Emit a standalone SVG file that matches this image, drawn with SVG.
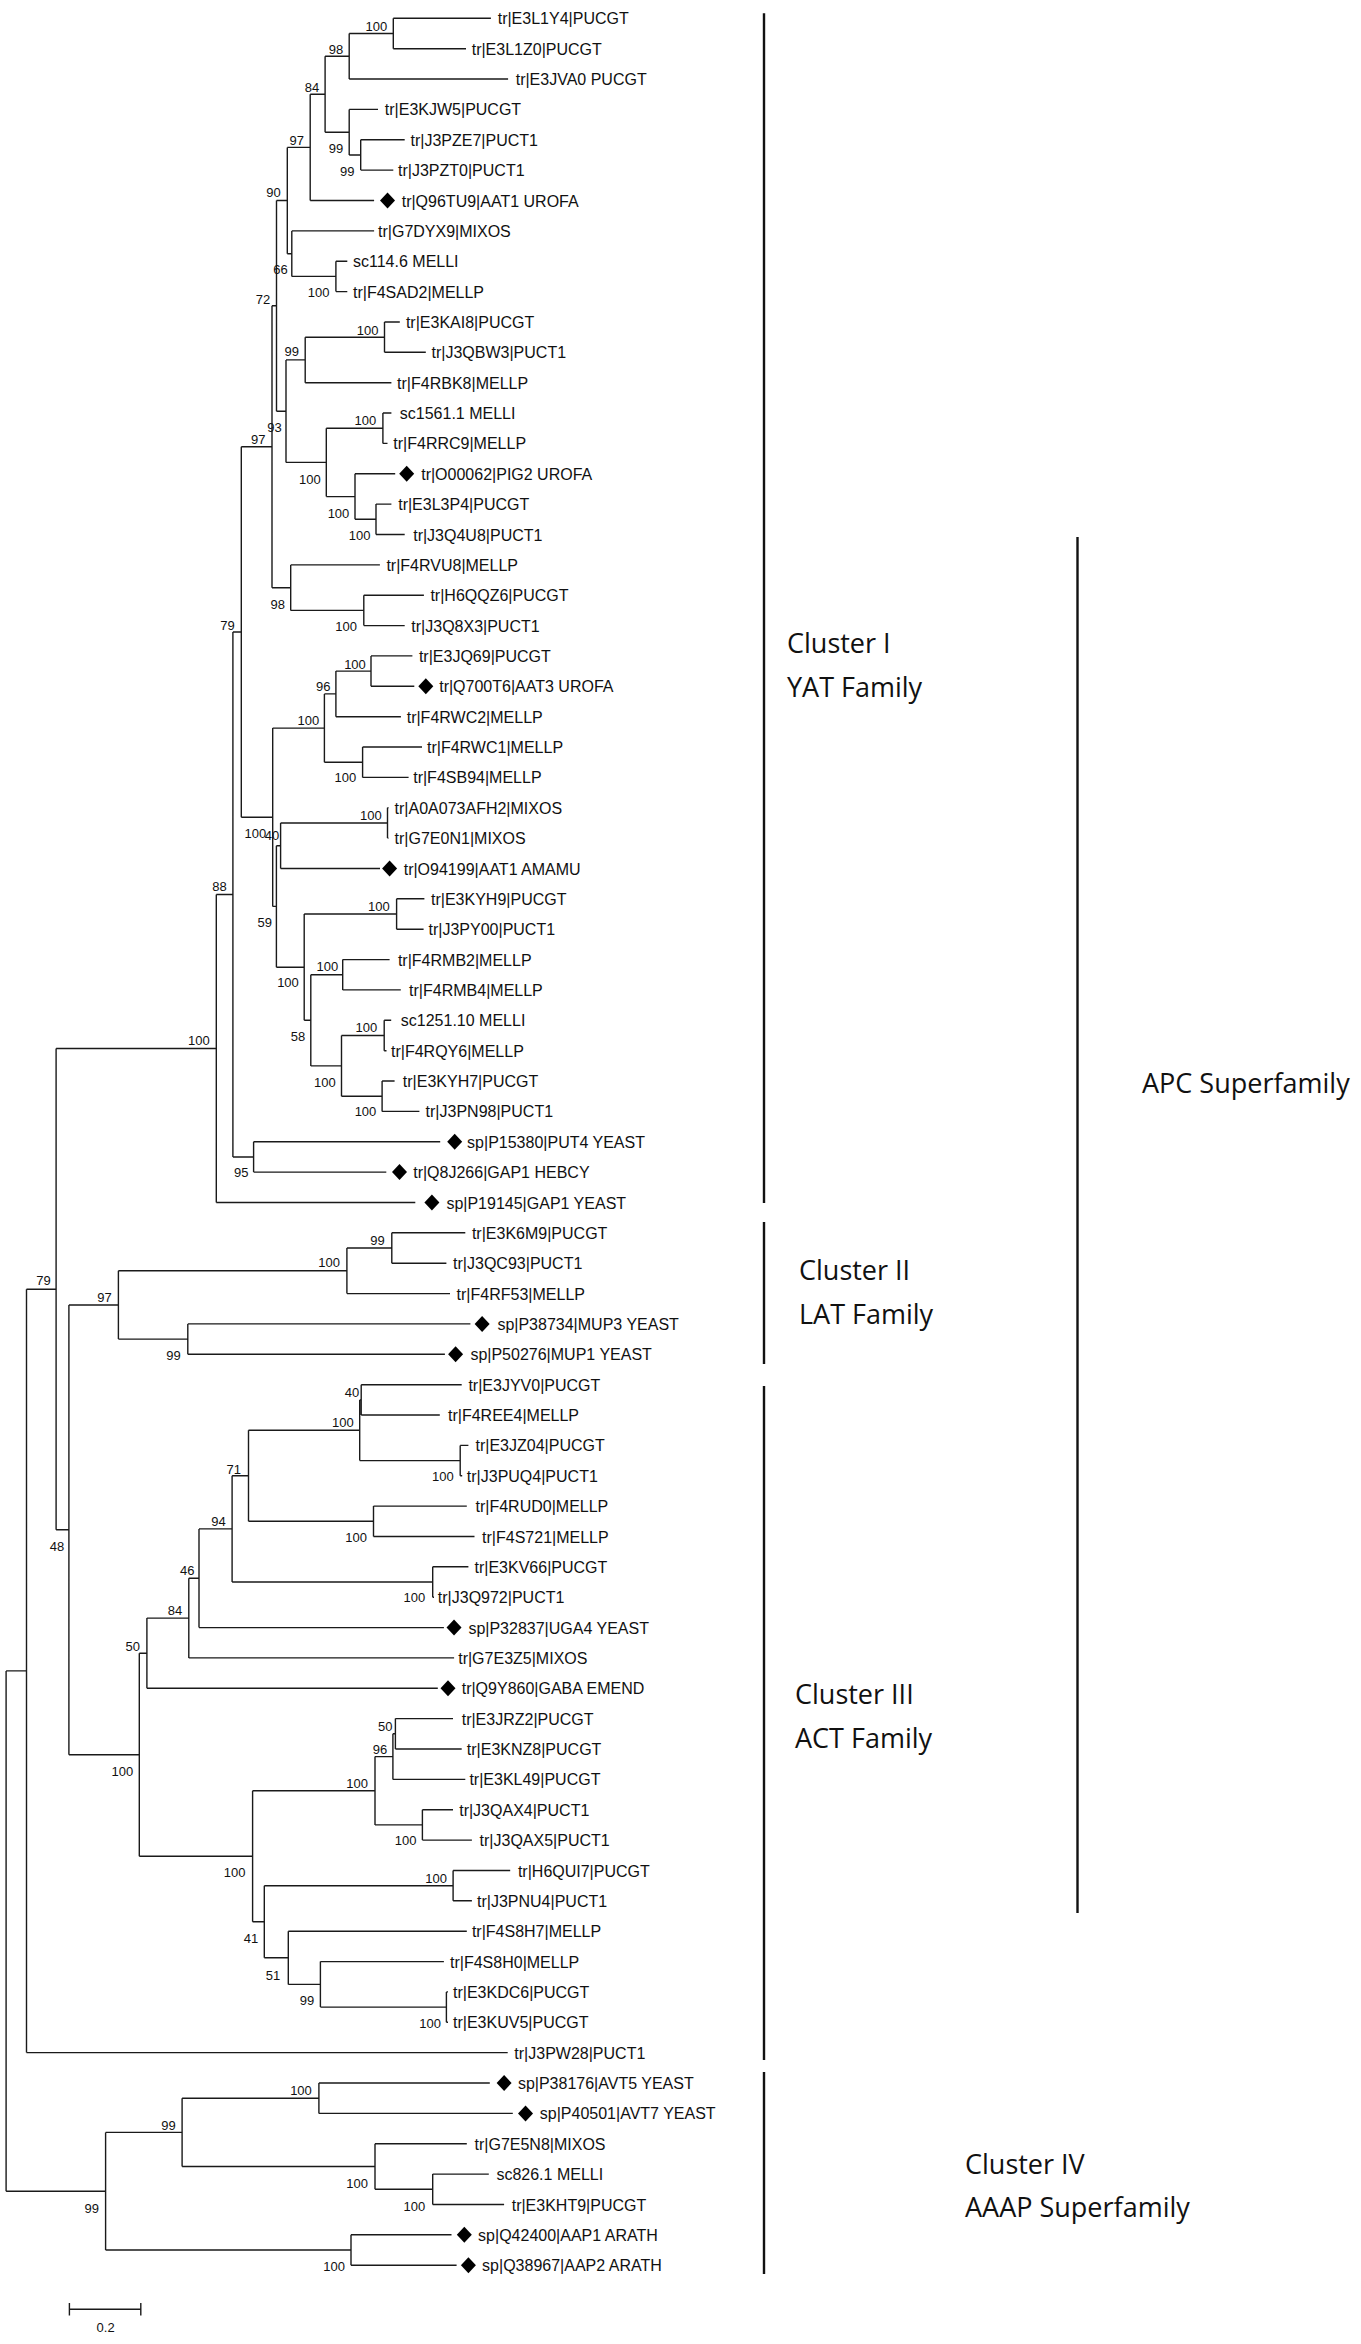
<svg xmlns="http://www.w3.org/2000/svg" xmlns:xlink="http://www.w3.org/1999/xlink" width="1361" height="2344" viewBox="0 0 1361 2344">
<defs>
<style>
.br{fill:none;stroke:#1a1a1a;stroke-width:1.4}
.bar{fill:none;stroke:#111;stroke-width:2.4}
.lf{font-family:"Liberation Sans",Arial,sans-serif;font-size:16px;fill:#111}
.bs{font-family:"Liberation Sans",Arial,sans-serif;font-size:13px;fill:#111;text-anchor:middle}
.cl{font-family:"Open Sans","Noto Sans",sans-serif;font-size:27px;fill:#111}
.dm{fill:#000}
</style>
<path id="dia" d="M0 -8L7.5 0L0 8L-7.5 0Z"/>
</defs>
<rect width="1361" height="2344" fill="#fff"/>
<g id="connectors" class="br">
<path d="M6.1 1670.9V2191.2M6.1 1670.9H26.5M6.1 2191.2H105.6
M26.5 1289.2V2052.6M26.5 1289.2H56.1M26.5 2052.6H507.7
M56.1 1048.5V1529.8M56.1 1048.5H216.3M56.1 1529.8H68.9
M216.3 894.5V1202.5M216.3 894.5H232.9M216.3 1202.5H415.3
M232.9 632V1157M232.9 632H241.3M232.9 1157H253.6
M241.3 446.7V817.2M241.3 446.7H272M241.3 817.2H272.7
M272 305.8V587.7M272 305.8H276.5M272 587.7H290.7
M276.5 200.5V411.2M276.5 200.5H287.3M276.5 411.2H286
M287.3 147.4V253.7M287.3 147.4H310.2M287.3 253.7H291.8
M310.2 94.2V200.5M310.2 94.2H325.1M310.2 200.5H374.1
M325.1 56.3V132.2M325.1 56.3H349.2M325.1 132.2H349.2
M349.2 33.5V79M349.2 33.5H393.3M349.2 79H508.1
M393.3 18.3V48.7M393.3 18.3H490.9M393.3 48.7H466
M349.2 109.4V155M349.2 109.4H378M349.2 155H360.7
M360.7 139.8V170.1M360.7 139.8H404.7M360.7 170.1H393.3
M291.8 230.9V276.4M291.8 230.9H374.1M291.8 276.4H335.9
M335.9 261.2V291.6M335.9 261.2H347.3M335.9 291.6H347.3
M286 359.9V462.4M286 359.9H305.2M286 462.4H326.3
M305.2 337.2V382.7M305.2 337.2H384.5M305.2 382.7H391.4
M384.5 322V352.3M384.5 322H399.8M384.5 352.3H425.8
M326.3 428.2V496.6M326.3 428.2H382.9M326.3 496.6H355
M382.9 413V443.4M382.9 413H391.4M382.9 443.4H387.5
M355 473.8V519.3M355 473.8H395.2M355 519.3H376
M376 504.1V534.5M376 504.1H391.4M376 534.5H404.7
M290.7 564.9V610.4M290.7 564.9H379.9M290.7 610.4H363.8
M363.8 595.2V625.6M363.8 595.2H423.9M363.8 625.6H404.7
M272.7 728.1V906.4M272.7 728.1H324.4M272.7 906.4H276.4
M324.4 693.9V762.2M324.4 693.9H335.9M324.4 762.2H362.6
M335.9 671.1V716.7M335.9 671.1H371M335.9 716.7H400.9
M371 655.9V686.3M371 655.9H412.4M371 686.3H414.3
M362.6 747V777.4M362.6 747H422M362.6 777.4H408.6
M276.4 845.7V967.2M276.4 845.7H280.6M276.4 967.2H304.2
M280.6 823V868.5M280.6 823H387.5M280.6 868.5H380
M387.5 807.8V838.1M387.5 807.8H388.5M387.5 838.1H388.5
M304.2 914V1020.3M304.2 914H396.6M304.2 1020.3H310.8
M396.6 898.8V929.2M396.6 898.8H424.4M396.6 929.2H423.6
M310.8 974.8V1065.9M310.8 974.8H342.7M310.8 1065.9H341.5
M342.7 959.6V989.9M342.7 959.6H389.6M342.7 989.9H400.8
M341.5 1035.5V1096.2M341.5 1035.5H384.2M341.5 1096.2H382.1
M384.2 1020.3V1050.7M384.2 1020.3H391.2M384.2 1050.7H386.5
M382.1 1081V1111.4M382.1 1081H394.6M382.1 1111.4H419.4
M253.6 1141.8V1172.1M253.6 1141.8H440.2M253.6 1172.1H386.3
M68.9 1305V1754.7M68.9 1305H118.4M68.9 1754.7H139.3
M118.4 1270.8V1339.1M118.4 1270.8H346.9M118.4 1339.1H187.8
M346.9 1248V1293.6M346.9 1248H391.8M346.9 1293.6H450
M391.8 1232.8V1263.2M391.8 1232.8H465.3M391.8 1263.2H446.4
M187.8 1323.9V1354.3M187.8 1323.9H470.4M187.8 1354.3H444.9
M139.3 1653.2V1856.2M139.3 1653.2H146.9M139.3 1856.2H252.6
M146.9 1618.1V1688.3M146.9 1618.1H188.8M146.9 1688.3H437.8
M188.8 1578.3V1657.9M188.8 1578.3H199M188.8 1657.9H454.1
M199 1528.9V1627.6M199 1528.9H232.1M199 1627.6H443.9
M232.1 1475.8V1582M232.1 1475.8H248.5M232.1 1582H432.7
M248.5 1430.2V1521.3M248.5 1430.2H359.7M248.5 1521.3H373.5
M359.7 1399.9V1460.6M359.7 1399.9H361.2M359.7 1460.6H460.2
M361.2 1384.7V1415M361.2 1384.7H461.7M361.2 1415H439.8
M460.2 1445.4V1475.7M460.2 1445.4H468.4M460.2 1475.7H462.2
M373.5 1506.1V1536.5M373.5 1506.1H466.8M373.5 1536.5H474.5
M432.7 1566.8V1597.2M432.7 1566.8H468.4M432.7 1597.2H434
M252.6 1790.8V1921.7M252.6 1790.8H375M252.6 1921.7H264.3
M375 1756.6V1824.9M375 1756.6H392.9M375 1824.9H422.4
M392.9 1733.8V1779.4M392.9 1733.8H395.4M392.9 1779.4H465.3
M395.4 1718.6V1749M395.4 1718.6H453M395.4 1749H461.7
M422.4 1809.7V1840.1M422.4 1809.7H453M422.4 1840.1H471.9
M264.3 1885.7V1957.8M264.3 1885.7H453.1M264.3 1957.8H288.3
M453.1 1870.5V1900.8M453.1 1870.5H510.2M453.1 1900.8H471.9
M288.3 1931.2V1984.4M288.3 1931.2H466.8M288.3 1984.4H320.4
M320.4 1961.6V2007.1M320.4 1961.6H443.9M320.4 2007.1H446.4
M446.4 1991.9V2022.3M446.4 1991.9H448M446.4 2022.3H448
M105.6 2132.4V2250M105.6 2132.4H182.1M105.6 2250H351
M182.1 2098.2V2166.5M182.1 2098.2H318.9M182.1 2166.5H375
M318.9 2083V2113.4M318.9 2083H489.8M318.9 2113.4H512.8
M375 2143.7V2189.3M375 2143.7H466.8M375 2189.3H432.7
M432.7 2174.1V2204.5M432.7 2174.1H488.8M432.7 2204.5H504.1
M351 2234.8V2265.2M351 2234.8H451.5M351 2265.2H456.6"/>
</g>
<g id="leaves">
<g id="n01"><text class="lf" x="497.7" y="24.3">tr|E3L1Y4|PUCGT</text></g>
<g id="n02"><text class="lf" x="471.7" y="54.7">tr|E3L1Z0|PUCGT</text></g>
<g id="n03"><text class="lf" x="515.7" y="85">tr|E3JVA0 PUCGT</text></g>
<g id="n04"><text class="lf" x="384.8" y="115.4">tr|E3KJW5|PUCGT</text></g>
<g id="n05"><text class="lf" x="410.5" y="145.8">tr|J3PZE7|PUCT1</text></g>
<g id="n06"><text class="lf" x="398" y="176.1">tr|J3PZT0|PUCT1</text></g>
<g id="n07"><use href="#dia" class="dm" x="387.5" y="200.5"/><text class="lf" x="401.7" y="206.5">tr|Q96TU9|AAT1 UROFA</text></g>
<g id="n08"><text class="lf" x="378" y="236.9">tr|G7DYX9|MIXOS</text></g>
<g id="n09"><text class="lf" x="353" y="267.2">sc114.6 MELLI</text></g>
<g id="n10"><text class="lf" x="353" y="297.6">tr|F4SAD2|MELLP</text></g>
<g id="n11"><text class="lf" x="405.9" y="328">tr|E3KAI8|PUCGT</text></g>
<g id="n12"><text class="lf" x="431.5" y="358.3">tr|J3QBW3|PUCT1</text></g>
<g id="n13"><text class="lf" x="397.1" y="388.7">tr|F4RBK8|MELLP</text></g>
<g id="n14"><text class="lf" x="399.8" y="419">sc1561.1 MELLI</text></g>
<g id="n15"><text class="lf" x="393.3" y="449.4">tr|F4RRC9|MELLP</text></g>
<g id="n16"><use href="#dia" class="dm" x="406.7" y="473.8"/><text class="lf" x="421.2" y="479.8">tr|O00062|PIG2 UROFA</text></g>
<g id="n17"><text class="lf" x="398.2" y="510.1">tr|E3L3P4|PUCGT</text></g>
<g id="n18"><text class="lf" x="413.2" y="540.5">tr|J3Q4U8|PUCT1</text></g>
<g id="n19"><text class="lf" x="386.4" y="570.9">tr|F4RVU8|MELLP</text></g>
<g id="n20"><text class="lf" x="430.4" y="601.2">tr|H6QQZ6|PUCGT</text></g>
<g id="n21"><text class="lf" x="411.3" y="631.6">tr|J3Q8X3|PUCT1</text></g>
<g id="n22"><text class="lf" x="418.9" y="661.9">tr|E3JQ69|PUCGT</text></g>
<g id="n23"><use href="#dia" class="dm" x="425.8" y="686.3"/><text class="lf" x="439.2" y="692.3">tr|Q700T6|AAT3 UROFA</text></g>
<g id="n24"><text class="lf" x="406.7" y="722.7">tr|F4RWC2|MELLP</text></g>
<g id="n25"><text class="lf" x="427" y="753">tr|F4RWC1|MELLP</text></g>
<g id="n26"><text class="lf" x="413.2" y="783.4">tr|F4SB94|MELLP</text></g>
<g id="n27"><text class="lf" x="394.6" y="813.8">tr|A0A073AFH2|MIXOS</text></g>
<g id="n28"><text class="lf" x="394.6" y="844.1">tr|G7E0N1|MIXOS</text></g>
<g id="n29"><use href="#dia" class="dm" x="389.6" y="868.5"/><text class="lf" x="403.7" y="874.5">tr|O94199|AAT1 AMAMU</text></g>
<g id="n30"><text class="lf" x="431" y="904.8">tr|E3KYH9|PUCGT</text></g>
<g id="n31"><text class="lf" x="428.5" y="935.2">tr|J3PY00|PUCT1</text></g>
<g id="n32"><text class="lf" x="397.9" y="965.6">tr|F4RMB2|MELLP</text></g>
<g id="n33"><text class="lf" x="409.1" y="995.9">tr|F4RMB4|MELLP</text></g>
<g id="n34"><text class="lf" x="400.8" y="1026.3">sc1251.10 MELLI</text></g>
<g id="n35"><text class="lf" x="391" y="1056.7">tr|F4RQY6|MELLP</text></g>
<g id="n36"><text class="lf" x="402.8" y="1087">tr|E3KYH7|PUCGT</text></g>
<g id="n37"><text class="lf" x="425.6" y="1117.4">tr|J3PN98|PUCT1</text></g>
<g id="n38"><use href="#dia" class="dm" x="454.7" y="1141.8"/><text class="lf" x="467.1" y="1147.8">sp|P15380|PUT4 YEAST</text></g>
<g id="n39"><use href="#dia" class="dm" x="399.5" y="1172.1"/><text class="lf" x="413.2" y="1178.1">tr|Q8J266|GAP1 HEBCY</text></g>
<g id="n40"><use href="#dia" class="dm" x="431.9" y="1202.5"/><text class="lf" x="446.4" y="1208.5">sp|P19145|GAP1 YEAST</text></g>
<g id="n41"><text class="lf" x="471.9" y="1238.8">tr|E3K6M9|PUCGT</text></g>
<g id="n42"><text class="lf" x="453.1" y="1269.2">tr|J3QC93|PUCT1</text></g>
<g id="n43"><text class="lf" x="456.6" y="1299.6">tr|F4RF53|MELLP</text></g>
<g id="n44"><use href="#dia" class="dm" x="482.1" y="1323.9"/><text class="lf" x="497.4" y="1329.9">sp|P38734|MUP3 YEAST</text></g>
<g id="n45"><use href="#dia" class="dm" x="455.6" y="1354.3"/><text class="lf" x="470.4" y="1360.3">sp|P50276|MUP1 YEAST</text></g>
<g id="n46"><text class="lf" x="468.4" y="1390.7">tr|E3JYV0|PUCGT</text></g>
<g id="n47"><text class="lf" x="448" y="1421">tr|F4REE4|MELLP</text></g>
<g id="n48"><text class="lf" x="475.5" y="1451.4">tr|E3JZ04|PUCGT</text></g>
<g id="n49"><text class="lf" x="466.8" y="1481.7">tr|J3PUQ4|PUCT1</text></g>
<g id="n50"><text class="lf" x="475.5" y="1512.1">tr|F4RUD0|MELLP</text></g>
<g id="n51"><text class="lf" x="482.1" y="1542.5">tr|F4S721|MELLP</text></g>
<g id="n52"><text class="lf" x="474.5" y="1572.8">tr|E3KV66|PUCGT</text></g>
<g id="n53"><text class="lf" x="437.8" y="1603.2">tr|J3Q972|PUCT1</text></g>
<g id="n54"><use href="#dia" class="dm" x="454" y="1627.6"/><text class="lf" x="468.4" y="1633.6">sp|P32837|UGA4 YEAST</text></g>
<g id="n55"><text class="lf" x="458.2" y="1663.9">tr|G7E3Z5|MIXOS</text></g>
<g id="n56"><use href="#dia" class="dm" x="448" y="1688.3"/><text class="lf" x="461.7" y="1694.3">tr|Q9Y860|GABA EMEND</text></g>
<g id="n57"><text class="lf" x="461.7" y="1724.6">tr|E3JRZ2|PUCGT</text></g>
<g id="n58"><text class="lf" x="466.8" y="1755">tr|E3KNZ8|PUCGT</text></g>
<g id="n59"><text class="lf" x="469.4" y="1785.4">tr|E3KL49|PUCGT</text></g>
<g id="n60"><text class="lf" x="459.2" y="1815.7">tr|J3QAX4|PUCT1</text></g>
<g id="n61"><text class="lf" x="479.6" y="1846.1">tr|J3QAX5|PUCT1</text></g>
<g id="n62"><text class="lf" x="517.9" y="1876.5">tr|H6QUI7|PUCGT</text></g>
<g id="n63"><text class="lf" x="477" y="1906.8">tr|J3PNU4|PUCT1</text></g>
<g id="n64"><text class="lf" x="471.9" y="1937.2">tr|F4S8H7|MELLP</text></g>
<g id="n65"><text class="lf" x="450" y="1967.6">tr|F4S8H0|MELLP</text></g>
<g id="n66"><text class="lf" x="453" y="1997.9">tr|E3KDC6|PUCGT</text></g>
<g id="n67"><text class="lf" x="453" y="2028.3">tr|E3KUV5|PUCGT</text></g>
<g id="n68"><text class="lf" x="514.3" y="2058.6">tr|J3PW28|PUCT1</text></g>
<g id="n69"><use href="#dia" class="dm" x="504.1" y="2083"/><text class="lf" x="517.9" y="2089">sp|P38176|AVT5 YEAST</text></g>
<g id="n70"><use href="#dia" class="dm" x="525.5" y="2113.4"/><text class="lf" x="539.8" y="2119.4">sp|P40501|AVT7 YEAST</text></g>
<g id="n71"><text class="lf" x="474.5" y="2149.7">tr|G7E5N8|MIXOS</text></g>
<g id="n72"><text class="lf" x="496.4" y="2180.1">sc826.1 MELLI</text></g>
<g id="n73"><text class="lf" x="511.7" y="2210.5">tr|E3KHT9|PUCGT</text></g>
<g id="n74"><use href="#dia" class="dm" x="464.3" y="2234.8"/><text class="lf" x="478.1" y="2240.8">sp|Q42400|AAP1 ARATH</text></g>
<g id="n75"><use href="#dia" class="dm" x="468.4" y="2265.2"/><text class="lf" x="482.1" y="2271.2">sp|Q38967|AAP2 ARATH</text></g>
</g>
<g id="bootstrap" class="bs">
<text x="376.4" y="30.5">100</text>
<text x="335.9" y="53.8">98</text>
<text x="312.1" y="91.8">84</text>
<text x="335.9" y="152.8">99</text>
<text x="347.3" y="176.2">99</text>
<text x="296.8" y="145.2">97</text>
<text x="273.5" y="197.2">90</text>
<text x="280.4" y="273.8">66</text>
<text x="318.6" y="297.2">100</text>
<text x="263.1" y="303.8">72</text>
<text x="367.6" y="334.5">100</text>
<text x="291.8" y="356.2">99</text>
<text x="365.3" y="425.2">100</text>
<text x="274.6" y="431.8">93</text>
<text x="258.2" y="443.8">97</text>
<text x="309.8" y="483.5">100</text>
<text x="338.5" y="517.8">100</text>
<text x="359.6" y="539.5">100</text>
<text x="277.7" y="608.5">98</text>
<text x="346.2" y="631.2">100</text>
<text x="227.6" y="630.2">79</text>
<text x="355" y="668.5">100</text>
<text x="323.2" y="691.2">96</text>
<text x="308.3" y="725.2">100</text>
<text x="345.4" y="782.2">100</text>
<text x="370.9" y="819.5">100</text>
<text x="255.3" y="837.8">100</text>
<text x="272" y="839.5">40</text>
<text x="219.6" y="891.2">88</text>
<text x="264.8" y="927.2">59</text>
<text x="378.8" y="910.5">100</text>
<text x="288" y="987.2">100</text>
<text x="327.4" y="971.2">100</text>
<text x="298" y="1041.2">58</text>
<text x="366.4" y="1031.8">100</text>
<text x="198.9" y="1045.2">100</text>
<text x="324.9" y="1086.8">100</text>
<text x="365.5" y="1115.5">100</text>
<text x="241.2" y="1177.2">95</text>
<text x="377.6" y="1245.2">99</text>
<text x="329.1" y="1267.2">100</text>
<text x="43.4" y="1285.2">79</text>
<text x="104.6" y="1301.8">97</text>
<text x="173.5" y="1359.5">99</text>
<text x="352" y="1396.8">40</text>
<text x="342.9" y="1427.2">100</text>
<text x="233.7" y="1473.8">71</text>
<text x="442.9" y="1480.5">100</text>
<text x="218.4" y="1526.2">94</text>
<text x="356.1" y="1541.8">100</text>
<text x="57.1" y="1551.2">48</text>
<text x="187.2" y="1575.2">46</text>
<text x="414.3" y="1601.8">100</text>
<text x="175" y="1615.2">84</text>
<text x="132.7" y="1650.5">50</text>
<text x="385.2" y="1730.5">50</text>
<text x="380.1" y="1753.8">96</text>
<text x="122.4" y="1776.2">100</text>
<text x="357.1" y="1787.8">100</text>
<text x="405.6" y="1845.2">100</text>
<text x="234.7" y="1877.2">100</text>
<text x="436.2" y="1882.8">100</text>
<text x="251" y="1942.8">41</text>
<text x="273" y="1979.5">51</text>
<text x="307.1" y="2004.5">99</text>
<text x="430.1" y="2027.8">100</text>
<text x="301" y="2095.2">100</text>
<text x="168.4" y="2129.5">99</text>
<text x="357.1" y="2187.8">100</text>
<text x="414.3" y="2210.5">100</text>
<text x="91.8" y="2212.8">99</text>
<text x="334.2" y="2270.5">100</text>
</g>
<g id="clusters">
<g id="cluster1"><path class="bar" d="M764 13.3V1203"/><text class="cl" x="787" y="653">Cluster I</text><text class="cl" x="787" y="697">YAT Family</text></g>
<g id="cluster2"><path class="bar" d="M764 1222V1364"/><text class="cl" x="799" y="1280">Cluster II</text><text class="cl" x="799" y="1324">LAT Family</text></g>
<g id="cluster3"><path class="bar" d="M764 1386V2060"/><text class="cl" x="795" y="1704">Cluster III</text><text class="cl" x="795" y="1748">ACT Family</text></g>
<g id="cluster4"><path class="bar" d="M764 2072V2274"/><text class="cl" x="965" y="2174">Cluster IV</text><text class="cl" x="965" y="2217">AAAP Superfamily</text></g>
<g id="apc"><path class="bar" d="M1077.5 537V1913"/><text class="cl" x="1142" y="1093">APC Superfamily</text></g>
</g>
<g id="scalebar">
<path class="br" d="M69.4 2309.3H140.8M69.4 2303V2315.5M140.8 2303V2315.5"/>
<text class="bs" x="105.6" y="2332">0.2</text>
</g>
</svg>
